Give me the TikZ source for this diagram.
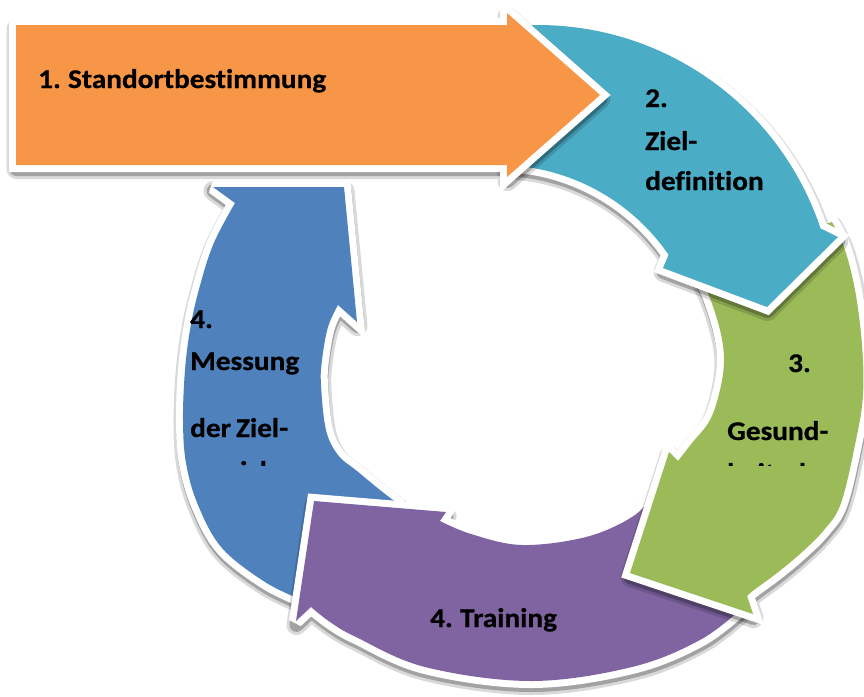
\documentclass[tikz,border=0pt]{standalone}
\usepackage{fontspec}
\setmainfont{Carlito}[Ligatures=NoCommon, WordSpace={0.75,0,0}, BoldFeatures={FakeBold=0.6}]
\definecolor{cOrange}{HTML}{F79646}
\definecolor{cTeal}{HTML}{4BACC6}
\definecolor{cGreen}{HTML}{9BBB59}
\definecolor{cPurple}{HTML}{8064A2}
\definecolor{cBlue}{HTML}{4F81BD}
\newcommand\lbl[1]{\scalebox{1.085}[1]{#1}}
\tikzset{
  shA/.style={draw=black, draw opacity=0.15, line width=20pt, line join=round, shift={(0.5,4)}},
  shB/.style={draw=black, draw opacity=0.25, line width=14pt, line join=round, shift={(0.5,4)}},
  halo/.style={draw=white, line width=14pt, line join=miter, miter limit=3},
  txt/.style={anchor=base west, inner sep=0pt, font=\bfseries\fontsize{27}{32}\selectfont, text=black},
}
\newcommand\PBlue{(302,600) -- plot[smooth, tension=0.6] coordinates {(302,600) (265,582) (222,548) (198,505) (186,463) (183,420) (185,370) (190,330) (198,293) (213,245) (235,203)} -- (213,187) -- (344,187) -- (357,322) -- (338,305) -- plot[smooth, tension=0.6] coordinates {(338,305) (328,327) (322,360) (321,385) (326,430) (338,455) (357,471) (380,490) (397,503)} -- (397,510) -- cycle}
\newcommand\PPurple{(741,609) -- plot[smooth, tension=0.6] coordinates {(741,609) (700,640) (632,667) (531,681) (425,667) (356,637) (330,622) (311,607)} -- (296,621) -- (314,501) -- (446,512) -- (440,521) -- plot[smooth, tension=0.6] coordinates {(440,521) (471,534) (522,545) (586,537) (632,517) (655,494) (667,480)} -- cycle}
\newcommand\PGreen{(832,222) -- plot[smooth, tension=0.6] coordinates {(832,222) (844,247) (855,290) (862,345) (863,395) (856,440) (841,503) (824,530) (801,553) (777,573) (754,590) (747,596)} -- (753,614) -- (630,573) -- (669,452) -- (678,461) -- plot[smooth, tension=0.6] coordinates {(678,461) (692,443) (710,420) (720,390) (724,360) (720,330) (708,293) (695,268)} -- cycle}
\newcommand\PTeal{plot[domain=95.8:18.5, samples=40] ({538+298*cos(\x)},{323-298*sin(\x)}) -- (838,237) -- (767,307) -- (663,268) -- plot[domain=34.5:88, samples=40] ({498+207*cos(\x)},{372-207*sin(\x)}) -- cycle}
\newcommand\POrange{(16,25) -- (507,25) -- (507,13) -- (600,95) -- (507,177) -- (507,165) -- (16,165) -- cycle}
\newcommand\shape[2]{%
  \path[shA] #1; \path[shB] #1; \path[halo] #1; \path[fill=#2] #1;}
\begin{document}
\begin{tikzpicture}[x=1pt, y=-1pt]
\useasboundingbox (0,0) rectangle (864,696);
\fill[white] (0,0) rectangle (864,696);
\clip (0,0) rectangle (864,696);
\shape{\PBlue}{cBlue}
\shape{\PPurple}{cPurple}
\shape{\PGreen}{cGreen}
\shape{\PTeal}{cTeal}
\shape{\POrange}{cOrange}
\node[txt] (t1) at (38,88) {\lbl{1. Standortbestimmung}};
\node[txt] (t2a) at (645,107) {\lbl{2.}};
\node[txt] (t2b) at (645,150) {\lbl{Ziel-}};
\node[txt] (t2c) at (645,190) {\lbl{definition}};
\node[txt] (t3a) at (788,372) {\lbl{3.}};
\node[txt] (t3b) at (727,440) {\lbl{Gesund-}};
\node[txt] (t4a) at (190,328) {\lbl{4.}};
\node[txt] (t4b) at (190,370) {\lbl{Messung}};
\node[txt] (t4c) at (190,437) {\lbl{der Ziel-}};
\node[txt] (t5) at (430,627) {\lbl{4. Training}};
\begin{scope}
  \clip (150,300) rectangle (864,465);
  \node[txt] (t3c) at (727,482) {\lbl{heitsche}};
  \node[txt] (t4d) at (190,480) {\lbl{erreichung}};
\end{scope}
\end{tikzpicture}
\end{document}
